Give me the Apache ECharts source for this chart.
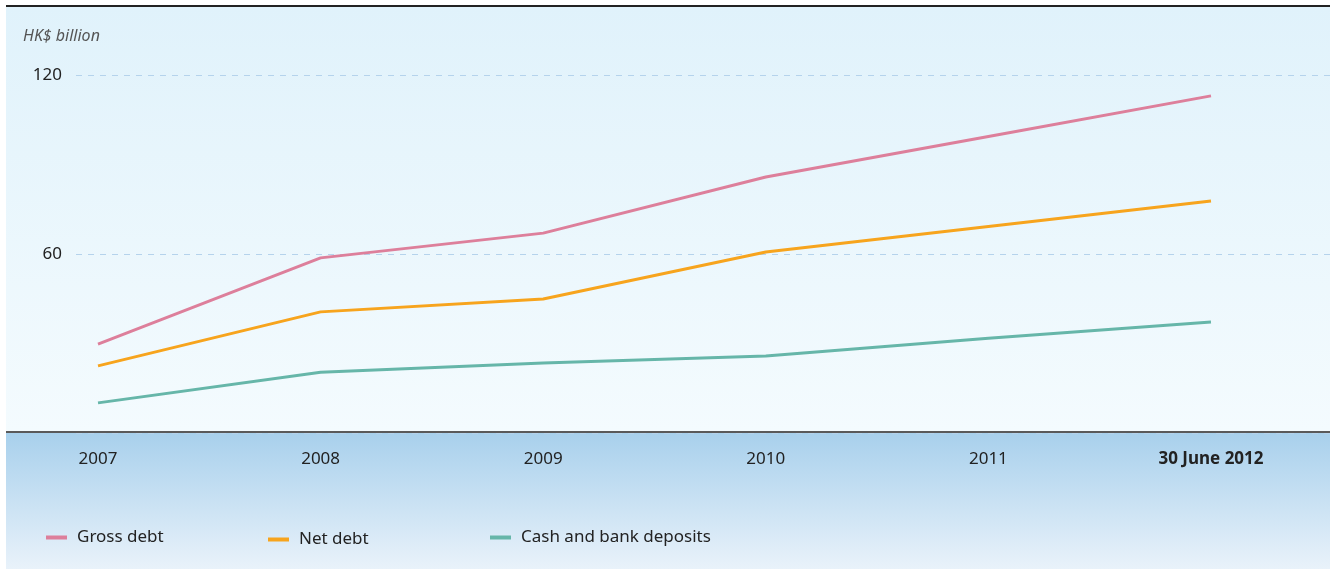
<!DOCTYPE html>
<html>
<head>
<meta charset="utf-8">
<script src="https://cdn.jsdelivr.net/npm/echarts@6/dist/echarts.min.js"></script>
<style>
  html, body { margin: 0; padding: 0; background: #fff; }
  #wrap { position: relative; width: 1336px; height: 570px; overflow: hidden; }
  .top { position: absolute; left: 6px; top: 7px; width: 1324px; height: 425px;
         background: linear-gradient(#e0f2fb, #f4fbfe); }
  .topline { position: absolute; left: 6px; top: 5px; width: 1324px; height: 2px; background: #222; }
  .bottom { position: absolute; left: 6px; top: 433px; width: 1324px; height: 136px;
            background: linear-gradient(#a8d0ec, #e9f2fa); }
  .base { position: absolute; left: 6px; top: 431px; width: 1324px; height: 2px; background: #5a5a5a; }
  #chart { position: absolute; left: 0; top: 0; width: 1336px; height: 570px; }
</style>
</head>
<body>
<div id="wrap">
  <div class="top"></div>
  <div class="topline"></div>
  <div class="bottom"></div>
  <div class="base"></div>
  <div id="chart"></div>
</div>
<script>
const FONT = '"Noto Sans", sans-serif';

const years = ['2007', '2008', '2009', '2010', '2011', '30 June 2012'];
const grossDebt = [29.8, 58.7, 67.0, 85.8, 99.4, 113.0];
const netDebt = [22.5, 40.6, 44.9, 60.7, 69.2, 77.8];
const cashDeposits = [10.1, 20.4, 23.5, 25.8, 31.8, 37.2];
const yTicks = [0, 60, 120];

const chart = echarts.init(document.getElementById('chart'), null, { renderer: 'canvas' });

function legendAt(name, left, top) {
  return {
    data: [name],
    left: left,
    top: top,
    padding: 0,
    icon: 'rect',
    itemWidth: 21,
    itemHeight: 4,
    itemGap: 10,
    textStyle: { fontFamily: FONT, fontSize: 17, color: '#222', padding: [0, 0, 0, 5] }
  };
}

const option = {
  animation: false,
  title: {
    text: 'HK$ billion',
    left: 18,
    top: 23,
    textStyle: { fontFamily: FONT, fontSize: 16, fontStyle: 'italic', fontWeight: 'normal', color: '#555' }
  },
  legend: [
    legendAt('Gross debt', 46, 529),
    legendAt('Net debt', 268, 531),
    legendAt('Cash and bank deposits', 490, 529)
  ],
  grid: [
    { left: 76, right: 6, top: 75, bottom: 137 },
    { left: 98, right: 125, top: 75, bottom: 137 }
  ],
  xAxis: [
    { gridIndex: 0, type: 'category', data: years, show: false },
    {
      gridIndex: 1,
      type: 'category',
      data: years,
      boundaryGap: false,
      axisLine: { show: false },
      axisTick: { show: false },
      axisLabel: {
        margin: 18,
        fontFamily: FONT,
        fontSize: 17,
        color: '#222',
        formatter: v => v === years[years.length - 1] ? '{b|' + v + '}' : v,
        rich: { b: { fontFamily: FONT, fontSize: 17, fontWeight: 'bold', color: '#222' } }
      }
    }
  ],
  yAxis: [
    {
      gridIndex: 0,
      type: 'value',
      min: yTicks[0],
      max: yTicks[yTicks.length - 1],
      interval: 60,
      axisLine: { show: false },
      axisTick: { show: false },
      axisLabel: {
        margin: 14,
        fontFamily: FONT,
        fontSize: 17,
        color: '#222',
        formatter: v => v === 0 ? '' : String(v)
      },
      splitLine: { lineStyle: { color: '#b5d3ec', type: [6, 6], width: 1 } }
    },
    {
      gridIndex: 1,
      type: 'value',
      min: yTicks[0],
      max: yTicks[yTicks.length - 1],
      interval: 60,
      show: false
    }
  ],
  series: [
    {
      name: 'Gross debt', type: 'line', xAxisIndex: 1, yAxisIndex: 1,
      data: grossDebt, showSymbol: false,
      lineStyle: { width: 3, color: '#dd7f9b' }, itemStyle: { color: '#dd7f9b' }
    },
    {
      name: 'Net debt', type: 'line', xAxisIndex: 1, yAxisIndex: 1,
      data: netDebt, showSymbol: false,
      lineStyle: { width: 3, color: '#f7a41d' }, itemStyle: { color: '#f7a41d' }
    },
    {
      name: 'Cash and bank deposits', type: 'line', xAxisIndex: 1, yAxisIndex: 1,
      data: cashDeposits, showSymbol: false,
      lineStyle: { width: 3, color: '#66b6a9' }, itemStyle: { color: '#66b6a9' }
    }
  ]
};

chart.setOption(option);
</script>
</body>
</html>
